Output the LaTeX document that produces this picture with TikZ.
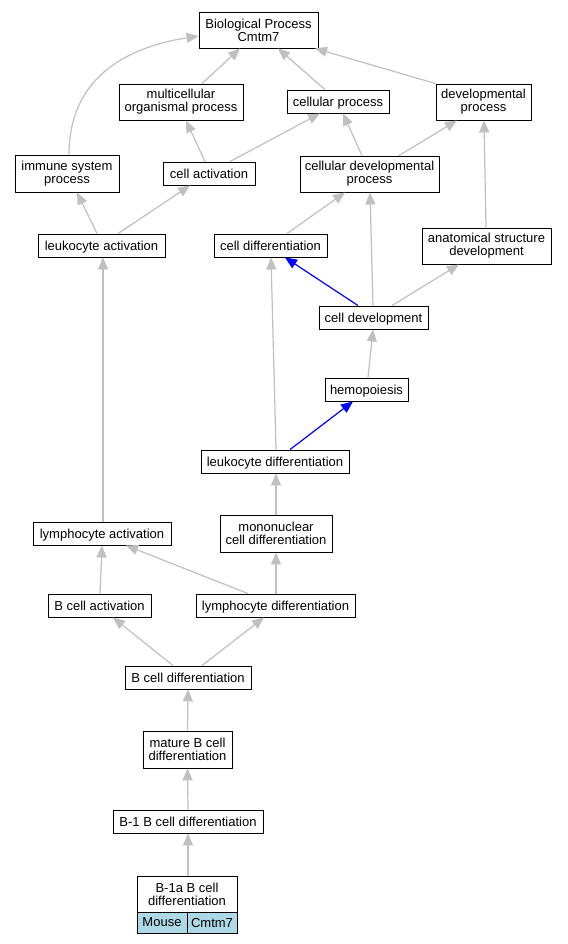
\documentclass[tikz,border=0pt]{standalone}
\usepackage{fontspec}
\setmainfont{Liberation Sans}
\usetikzlibrary{arrows.meta,calc}
\definecolor{edgegray}{HTML}{C0C0C0}
\definecolor{cellblue}{HTML}{ADD8E6}
\begin{document}
\begin{tikzpicture}[x=1pt,y=-1pt,
  box/.style={draw=black,line width=0.9pt,fill=white,inner sep=0pt,align=center,
    font=\fontsize{13}{13}\selectfont},
  single/.style={box,text depth=0pt},
  gedge/.style={draw=edgegray,line width=1.2pt,-{Triangle[length=12pt,width=10pt]}},
  bedge/.style={draw=blue,line width=1.2pt,-{Triangle[length=12pt,width=10pt]}},
  leaf/.style={single,fill=cellblue}]
\useasboundingbox[fill=white] (0,0) rectangle (567,944);
% nodes
\node[box,minimum width=119,minimum height=36] (BP) at (258.5,30) {Biological Process\\Cmtm7};
\node[box,minimum width=124,minimum height=36] (multi) at (181,102) {multicellular\\organismal process};
\node[single,minimum width=102,minimum height=23] (cellp) at (338,101.5) {cellular process};
\node[box,minimum width=95,minimum height=36] (devp) at (483.5,102) {developmental\\process};
\node[box,minimum width=104,minimum height=37] (immune) at (67,173.5) {immune system\\process};
\node[single,minimum width=92,minimum height=23] (cella) at (209,173.5) {cell activation};
\node[box,minimum width=139,minimum height=36] (celldev) at (369.5,174) {cellular developmental\\process};
\node[single,minimum width=127,minimum height=23] (leuka) at (101.5,245.5) {leukocyte activation};
\node[single,minimum width=113,minimum height=23] (celldiff) at (270.5,245.5) {cell differentiation};
\node[box,minimum width=129,minimum height=36] (anat) at (486.5,246) {anatomical structure\\development};
\node[single,minimum width=109,minimum height=23] (celldevt) at (373.5,317.5) {cell development};
\node[single,minimum width=83,minimum height=23] (hemo) at (366.5,389.5) {hemopoiesis};
\node[single,minimum width=148,minimum height=23] (leukd) at (275,461.5) {leukocyte differentiation};
\node[single,minimum width=138,minimum height=23] (lympha) at (102,533.5) {lymphocyte activation};
\node[box,minimum width=112,minimum height=37] (mono) at (276,533.5) {mononuclear\\cell differentiation};
\node[single,minimum width=103,minimum height=23] (bcella) at (99.5,605.5) {B cell activation};
\node[single,minimum width=159,minimum height=23] (lymphd) at (275.5,605.5) {lymphocyte differentiation};
\node[single,minimum width=126,minimum height=23] (bcelld) at (188,677.5) {B cell differentiation};
\node[box,minimum width=89,minimum height=37] (mature) at (187.5,749.5) {mature B cell\\differentiation};
\node[single,minimum width=150,minimum height=23] (b1) at (188,821.5) {B-1 B cell differentiation};
\node[box,minimum width=100,minimum height=36] (b1a) at (187,894) {B-1a B cell\\differentiation};
\node[leaf,minimum width=50,minimum height=21] (mouse) at (162,922.5) {Mouse};
\node[leaf,minimum width=50,minimum height=21] (cmtm) at (212,922.5) {Cmtm7};
% edges
\draw[gedge] ($(immune.north)+(2,0)$) .. controls (69,90) and (110,50) .. ($(BP.west)+(0,6)$);
\draw[gedge] ($(multi.north)+(21,0)$) -- ($(BP.south)+(-18.5,0)$);
\draw[gedge] ($(cellp.north)+(-13,0)$) -- ($(BP.south)+(19.5,0)$);
\draw[gedge] (devp.north west) -- ($(BP.south)+(56.5,0)$);
\draw[gedge] ($(cella.north)+(-4,0)$) -- ($(multi.south)+(5,0)$);
\draw[gedge] ($(cella.north)+(21,0)$) -- ($(cellp.south)+(-18,0)$);
\draw[gedge] ($(celldev.north)+(-7.5,0)$) -- ($(cellp.south)+(5,0)$);
\draw[gedge] ($(celldev.north)+(29.5,0)$) -- ($(devp.south)+(-26.5,0)$);
\draw[gedge] ($(anat.north)+(-0.5,0)$) -- ($(devp.south)+(0.5,0)$);
\draw[gedge] ($(leuka.north)+(-4.5,0)$) -- ($(immune.south)+(10,0)$);
\draw[gedge] ($(leuka.north)+(16.5,0)$) -- ($(cella.south)+(-19,0)$);
\draw[gedge] ($(celldiff.north)+(16.5,0)$) -- ($(celldev.south)+(-24.5,0)$);
\draw[gedge] ($(celldevt.north)+(-0.5,0)$) -- ($(celldev.south)+(0.5,0)$);
\draw[bedge] ($(celldevt.north)+(-15.5,0)$) -- ($(celldiff.south)+(14.5,0)$);
\draw[gedge] ($(celldevt.north)+(18.5,0)$) -- ($(anat.south)+(-27.5,0)$);
\draw[gedge] ($(hemo.north)+(1.5,0)$) -- ($(celldevt.south)+(-0.5,0)$);
\draw[bedge] ($(leukd.north)+(15,0)$) -- ($(hemo.south)+(-13.5,0)$);
\draw[gedge] ($(leukd.north)+(1,0)$) -- ($(celldiff.south)+(0.5,0)$);
\draw[gedge] ($(lympha.north)+(1,0)$) -- ($(leuka.south)+(1.5,0)$);
\draw[gedge] (mono.north) -- ($(leukd.south)+(1,0)$);
\draw[gedge] ($(bcella.north)+(0.5,0)$) -- (lympha.south);
\draw[gedge] ($(lymphd.north)+(-27.5,0)$) -- ($(lympha.south)+(24,0)$);
\draw[gedge] ($(lymphd.north)+(0.5,0)$) -- (mono.south);
\draw[gedge] ($(bcelld.north)+(-15,0)$) -- ($(bcella.south)+(13.5,0)$);
\draw[gedge] ($(bcelld.north)+(14,0)$) -- ($(lymphd.south)+(-11.5,0)$);
\draw[gedge] (mature.north) -- (bcelld.south);
\draw[gedge] (b1.north) -- (mature.south);
\draw[gedge] ($(b1a.north)+(1,0)$) -- (b1.south);
\end{tikzpicture}
\end{document}
